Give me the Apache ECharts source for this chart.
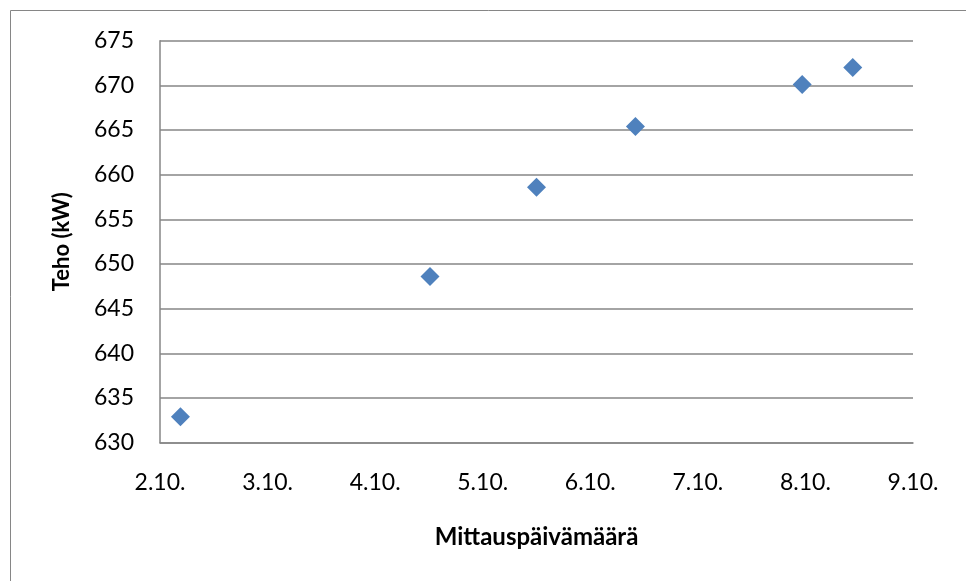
<!DOCTYPE html>
<html>
<head>
<meta charset="utf-8">
<script src="https://cdn.jsdelivr.net/npm/echarts@6/dist/echarts.min.js"></script>
<style>
  html, body { margin: 0; padding: 0; background: #fff; }
  #chart { width: 966px; height: 581px; }
</style>
</head>
<body>
<div id="chart"></div>
<script>
// Measurement day (day of October, fractional) and measured power in kW
const measureDays = [2.19, 4.51, 5.50, 6.42, 7.97, 8.44];
const powerKw = [632.9, 648.6, 658.6, 665.4, 670.1, 672.0];

// Axis ranges and titles
const dayRange = [2, 9];
const powerRange = [630, 675];
const xTitle = 'Mittauspäivämäärä';
const yTitle = 'Teho (kW)';

const font = 'Lato, "Open Sans", sans-serif';
const gridColor = '#868686';

const chart = echarts.init(document.getElementById('chart'), null, { renderer: 'canvas' });

chart.setOption({
  animation: false,
  backgroundColor: '#ffffff',
  graphic: [{
    type: 'rect',
    shape: { x: 10.5, y: 10.5, width: 1200, height: 1200 },
    style: { fill: 'none', stroke: gridColor, lineWidth: 1 },
    silent: true,
    z: -1
  }],
  grid: { left: 160, right: 53, top: 40.7, bottom: 138.3, containLabel: false },
  xAxis: {
    type: 'value',
    min: dayRange[0],
    max: dayRange[1],
    interval: 1,
    name: xTitle,
    nameLocation: 'middle',
    nameGap: 83,
    nameTextStyle: { fontFamily: font, fontSize: 24, fontWeight: 'bold', color: '#000' },
    axisLine: { show: true, lineStyle: { color: gridColor, width: 1.5 } },
    axisTick: { show: false },
    splitLine: { show: false },
    axisLabel: {
      fontFamily: font, fontSize: 23, color: '#000', margin: 28,
      formatter: v => v + '.10.'
    }
  },
  yAxis: {
    type: 'value',
    min: powerRange[0],
    max: powerRange[1],
    interval: 5,
    name: yTitle,
    nameLocation: 'middle',
    nameGap: 87,
    nameRotate: 90,
    nameTextStyle: { fontFamily: font, fontSize: 22, fontWeight: 'bold', color: '#000' },
    axisLine: { show: true, lineStyle: { color: gridColor, width: 1.5 } },
    axisTick: { show: false },
    splitLine: { show: true, lineStyle: { color: gridColor, width: 1.5 } },
    axisLabel: { fontFamily: font, fontSize: 23, color: '#000', margin: 26 }
  },
  series: [{
    type: 'scatter',
    data: measureDays.map((d, i) => [d, powerKw[i]]),
    symbol: 'diamond',
    symbolSize: [19, 19],
    itemStyle: { color: '#4F81BD', opacity: 1 }
  }]
});
</script>
</body>
</html>
